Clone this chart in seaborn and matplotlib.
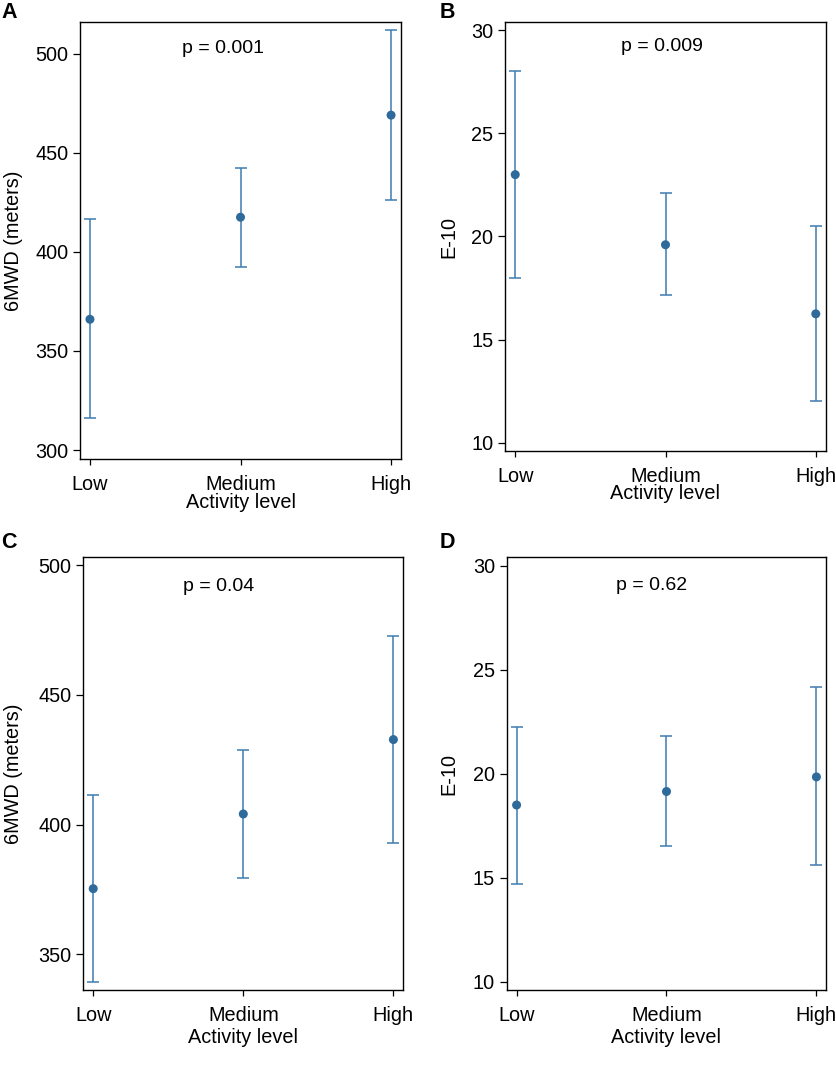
import numpy as np
import pandas as pd
import matplotlib
matplotlib.use("Agg")
import matplotlib.pyplot as plt
import seaborn as sns

# Activity levels shared by all panels
levels = ["Low", "Medium", "High"]

# Panel A: 6MWD (meters), mean and 95% CI
a_mean = [366.0, 417.5, 469.0]
a_lo = [316.0, 392.5, 426.0]
a_hi = [416.5, 442.5, 512.0]

# Panel B: E-10
b_mean = [23.0, 19.6, 16.25]
b_lo = [18.0, 17.15, 12.0]
b_hi = [28.0, 22.1, 20.5]

# Panel C: 6MWD (meters)
c_mean = [375.3, 404.1, 432.8]
c_lo = [339.3, 379.3, 392.9]
c_hi = [411.3, 428.9, 472.8]

# Panel D: E-10
d_mean = [18.5, 19.15, 19.85]
d_lo = [14.7, 16.55, 15.6]
d_hi = [22.25, 21.8, 24.15]

p_values = ["p = 0.001", "p = 0.009", "p = 0.04", "p = 0.62"]
panel_letters = ["A", "B", "C", "D"]

sns.set_style("ticks")
plt.rcParams["font.family"] = ["Liberation Sans", "DejaVu Sans"]
plt.rcParams["text.color"] = "black"
plt.rcParams["axes.labelcolor"] = "black"
plt.rcParams["xtick.color"] = "black"
plt.rcParams["ytick.color"] = "black"

W, H = 837, 1084
DOT = "#2e6a9a"
BAR = "#3d7cb0"
FS = 14.3


def px_axes(fig, left, right, top, bottom):
    return fig.add_axes([left / W, 1 - bottom / H, (right - left) / W, (bottom - top) / H])


def draw_panel(ax, mean, lo, hi, ylabel, ylim, yticks, ptxt, ppos, ylab_x, xlab_y):
    df = pd.DataFrame({"level": levels, "mean": mean, "lo": lo, "hi": hi})
    yerr = np.vstack([df["mean"] - df["lo"], df["hi"] - df["mean"]])
    ax.errorbar(df["level"], df["mean"], yerr=yerr, fmt="none", ecolor=BAR,
                elinewidth=1.1, capsize=4, capthick=1.1, zorder=2)
    sns.scatterplot(data=df, x="level", y="mean", ax=ax, color=DOT, s=42,
                    edgecolor="none", zorder=3, legend=False)
    ax.set_xlim(-0.066, 2.066)
    ax.set_ylim(*ylim)
    ax.set_yticks(yticks)
    ax.set_ylabel(ylabel, fontsize=FS)
    ax.yaxis.set_label_coords(ylab_x, 0.5)
    ax.set_xlabel("Activity level", fontsize=FS)
    ax.xaxis.set_label_coords(0.5, xlab_y)
    ax.tick_params(axis="y", labelsize=FS, length=5, width=0.9, pad=3.5)
    ax.tick_params(axis="x", labelsize=FS, length=4, width=0.9, pad=7.5)
    for s in ax.spines.values():
        s.set_linewidth(1.0)
        s.set_color("black")
    ax.text(ppos[0], ppos[1], ptxt, transform=ax.transAxes, ha="center", va="center",
            fontsize=14)


fig = plt.figure(figsize=(W / 100, H / 100), dpi=100)

ax_a = px_axes(fig, 80, 401, 22, 459)
ax_b = px_axes(fig, 505.3, 825.7, 22, 451)
ax_c = px_axes(fig, 83.3, 403.3, 557.3, 990.3)
ax_d = px_axes(fig, 506.7, 826.3, 557.3, 990.3)

draw_panel(ax_a, a_mean, a_lo, a_hi, "6MWD (meters)", (295.5, 516),
           np.arange(300, 501, 50), p_values[0], (0.445, 0.940), -0.178, -0.078)
draw_panel(ax_b, b_mean, b_lo, b_hi, "E-10", (9.6, 30.4),
           np.arange(10, 31, 5), p_values[1], (0.488, 0.944), -0.148, -0.078)
draw_panel(ax_c, c_mean, c_lo, c_hi, "6MWD (meters)", (336.1, 503.1),
           np.arange(350, 501, 50), p_values[2], (0.424, 0.932), -0.188, -0.086)
draw_panel(ax_d, d_mean, d_lo, d_hi, "E-10", (9.6, 30.4),
           np.arange(10, 31, 5), p_values[3], (0.454, 0.936), -0.152, -0.086)

# Panel letters
letter_pos = [(1, 13), (440, 13), (1, 543), (440, 543)]
for letter, (x, y) in zip(panel_letters, letter_pos):
    fig.text(x / W, 1 - y / H, letter, fontsize=15.5, fontweight="bold",
             ha="left", va="center")

fig.savefig("out.png", dpi=100)
